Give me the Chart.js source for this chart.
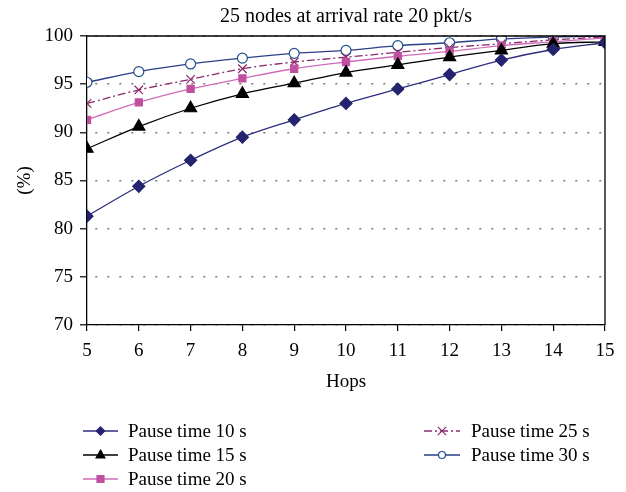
<!DOCTYPE html>
<html lang="en">
<head>
  <meta charset="UTF-8">
  <title>25 nodes at arrival rate 20 pkt/s</title>
  <script src="https://cdn.jsdelivr.net/npm/chart.js@4.4.0/dist/chart.umd.min.js"></script>
  <style>
    html, body { margin: 0; padding: 0; background: #fff; }
    #wrap { width: 626px; height: 492px; }
  </style>
</head>
<body>
<div id="wrap"><canvas id="myChart" width="626" height="492"></canvas></div>
<script>
    // data
    const hops = [5, 6, 7, 8, 9, 10, 11, 12, 13, 14, 15];
    const pause10 = [81.3, 84.4, 87.1, 89.5, 91.3, 93.0, 94.5, 96.0, 97.5, 98.6, 99.3];
    const pause15 = [88.3, 90.6, 92.5, 94.0, 95.1, 96.2, 97.0, 97.8, 98.5, 99.2, 99.4];
    const pause20 = [91.3, 93.1, 94.5, 95.6, 96.6, 97.3, 97.9, 98.4, 99.0, 99.4, 99.8];
    const pause25 = [93.0, 94.4, 95.5, 96.6, 97.3, 97.8, 98.3, 98.8, 99.2, 99.6, 99.9];
    const pause30 = [95.2, 96.3, 97.1, 97.7, 98.2, 98.5, 99.0, 99.3, 99.7, 99.9, 100.0];
    const seriesNames = ['Pause time 10 s', 'Pause time 15 s', 'Pause time 20 s', 'Pause time 25 s', 'Pause time 30 s'];
    const yTicks = [70, 75, 80, 85, 90, 95, 100];

    const serif = "'Liberation Serif', 'DejaVu Serif', serif";

    function drawMarker(ctx, style, x, y, r, fill, stroke) {
        ctx.save();
        ctx.fillStyle = fill;
        ctx.strokeStyle = stroke;
        ctx.lineWidth = 1.2;
        ctx.setLineDash([]);
        ctx.beginPath();
        if (style === 'rectRot') {
            ctx.moveTo(x, y - r); ctx.lineTo(x + r, y); ctx.lineTo(x, y + r); ctx.lineTo(x - r, y);
            ctx.closePath(); ctx.fill(); ctx.stroke();
        } else if (style === 'triangle') {
            ctx.moveTo(x, y - r); ctx.lineTo(x + r * 0.9, y + r * 0.6); ctx.lineTo(x - r * 0.9, y + r * 0.6);
            ctx.closePath(); ctx.fill(); ctx.stroke();
        } else if (style === 'rect') {
            ctx.rect(x - r, y - r, 2 * r, 2 * r); ctx.fill(); ctx.stroke();
        } else if (style === 'crossRot') {
            ctx.moveTo(x - r, y - r); ctx.lineTo(x + r, y + r);
            ctx.moveTo(x + r, y - r); ctx.lineTo(x - r, y + r); ctx.stroke();
        } else {
            ctx.arc(x, y, r, 0, Math.PI * 2); ctx.fill(); ctx.stroke();
        }
        ctx.restore();
    }

    // box round the plot and the two-column legend below it
    const frameAndLegend = {
        id: 'frameAndLegend',
        afterDraw: (chart) => {
            const ctx = chart.ctx;
            const a = chart.chartArea;
            ctx.save();
            ctx.strokeStyle = '#000';
            ctx.lineWidth = 1.3;
            ctx.beginPath();
            ctx.moveTo(a.left, a.top); ctx.lineTo(a.right, a.top); ctx.lineTo(a.right, a.bottom);
            ctx.stroke();

            const slots = [
                {x0: 83, x1: 118, tx: 128, y: 431},
                {x0: 83, x1: 118, tx: 128, y: 455},
                {x0: 83, x1: 118, tx: 128, y: 479},
                {x0: 424, x1: 460, tx: 471, y: 431},
                {x0: 424, x1: 460, tx: 471, y: 455}
            ];
            ctx.font = '19px ' + serif;
            ctx.textBaseline = 'middle';
            ctx.fillStyle = '#000';
            chart.data.datasets.forEach((ds, i) => {
                const s = slots[i];
                ctx.save();
                ctx.strokeStyle = ds.borderColor;
                ctx.lineWidth = ds.borderWidth;
                ctx.setLineDash(ds.borderDash || []);
                ctx.beginPath();
                ctx.moveTo(s.x0, s.y); ctx.lineTo(s.x1, s.y);
                ctx.stroke();
                ctx.restore();
                drawMarker(ctx, ds.pointStyle, (s.x0 + s.x1) / 2, s.y, ds.pointRadius * 0.7,
                    ds.pointBackgroundColor, ds.pointBorderColor);
                ctx.fillStyle = '#000';
                ctx.fillText(ds.label, s.tx, s.y + 1);
            });
            ctx.restore();
        }
    };

    function series(label, data, color, markerFill, markerLine, style, radius, dash) {
        return {
            label: label,
            data: data,
            borderColor: color,
            borderWidth: 1.3,
            borderDash: dash,
            pointStyle: style,
            pointRadius: radius,
            pointBackgroundColor: markerFill,
            pointBorderColor: markerLine,
            pointBorderWidth: 1.2,
            tension: 0.35,
            fill: false
        };
    }

    var ctx = document.getElementById('myChart');
    var myChart = new Chart(ctx, {
        type: 'line',
        data: {
            labels: hops,
            datasets: [
                series(seriesNames[0], pause10, '#2e2d7e', '#24246e', '#24246e', 'rectRot', 6, []),
                series(seriesNames[1], pause15, '#000000', '#000000', '#000000', 'triangle', 7, []),
                series(seriesNames[2], pause20, '#d06cbb', '#c0509f', '#c0509f', 'rect', 5, []),
                series(seriesNames[3], pause25, '#8a2a6c', '#8a2a6c', '#8a2a6c', 'crossRot', 6, [8, 3, 2, 3]),
                series(seriesNames[4], pause30, '#2a3f86', '#ffffff', '#1f4e8c', 'circle', 5, [])
            ]
        },
        plugins: [frameAndLegend],
        options: {
            responsive: false,
            animation: false,
            layout: { padding: { left: 0, right: 21, top: 0, bottom: 97 } },
            plugins: {
                legend: { display: false },
                tooltip: { enabled: false },
                title: {
                    display: true,
                    fullSize: false,
                    text: '25 nodes at arrival rate 20 pkt/s',
                    color: '#000',
                    font: { family: serif, size: 20, weight: 'normal', lineHeight: 1.2 },
                    padding: { top: 5, bottom: 7 }
                }
            },
            scales: {
                x: {
                    type: 'linear',
                    min: 5,
                    max: 15,
                    afterBuildTicks: (scale) => { scale.ticks = hops.map(v => ({value: v})); },
                    afterFit: (scale) => { scale.height = 70; },
                    grid: { drawOnChartArea: false, tickLength: 6, color: '#000', lineWidth: 1.2 },
                    border: { color: '#000', width: 1.3 },
                    ticks: { color: '#000', font: { family: serif, size: 19 }, padding: 9, maxRotation: 0 },
                    title: { display: true, text: 'Hops', color: '#000', font: { family: serif, size: 19 }, padding: { top: 4, bottom: 2 } }
                },
                y: {
                    min: 70,
                    max: 100,
                    afterBuildTicks: (scale) => { scale.ticks = yTicks.map(v => ({value: v})); },
                    afterFit: (scale) => { scale.width = 87; },
                    grid: {
                        color: '#777',
                        lineWidth: 1.6,
                        tickLength: 7,
                        tickColor: '#000',
                        tickWidth: 1.2,
                        tickBorderDash: []
                    },
                    border: { color: '#000', width: 1.3, dash: [2, 10], dashOffset: -8 },
                    ticks: { color: '#000', font: { family: serif, size: 19 }, padding: 7 },
                    title: { display: true, text: '(%)', color: '#000', font: { family: serif, size: 19 }, padding: { top: 13.6, bottom: 0 } }
                }
            }
        }
    });
</script>
</body>
</html>
